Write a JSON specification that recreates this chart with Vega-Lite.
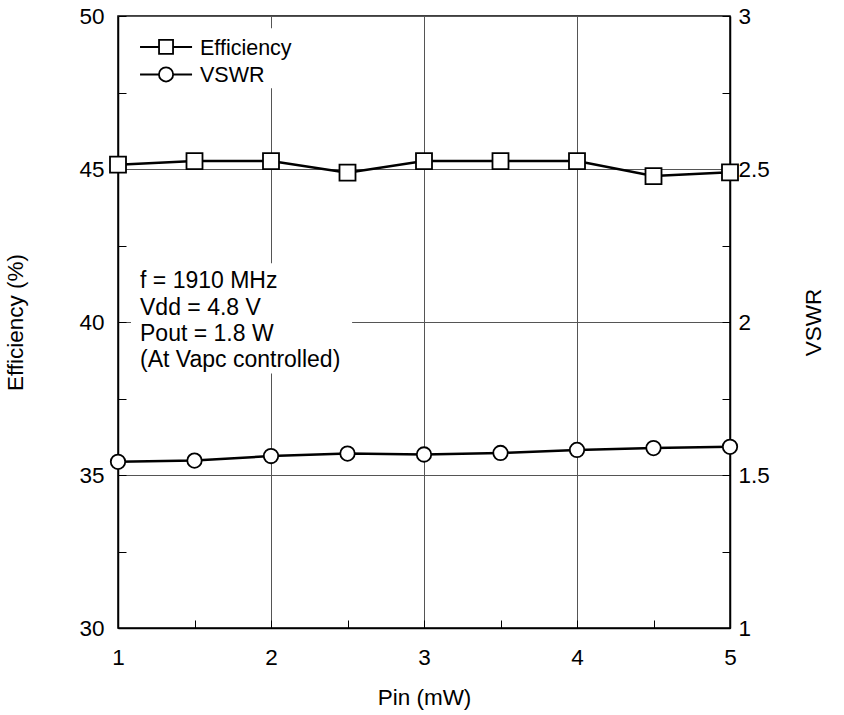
{
  "$schema": "https://vega.github.io/schema/vega-lite/v6.json",
  "width": 612,
  "height": 612,
  "autosize": "none",
  "padding": {"left": 118, "top": 16, "right": 114, "bottom": 87},
  "background": "white",
  "config": {
    "font": "Liberation Sans",
    "view": {"stroke": "black", "strokeWidth": 1.5},
    "axis": {
      "domainColor": "black", "domainWidth": 1.5,
      "tickColor": "black", "tickWidth": 1,
      "labelColor": "black", "labelFontSize": 22.5,
      "titleFontSize": 22.5, "titleFontWeight": "normal", "titleColor": "black",
      "gridColor": "#555", "gridWidth": 1
    }
  },
  "datasets": {
    "eff": [
      {"pin": 1, "series": "Efficiency", "value": 45.14},
      {"pin": 1.5, "series": "Efficiency", "value": 45.26},
      {"pin": 2, "series": "Efficiency", "value": 45.26},
      {"pin": 2.5, "series": "Efficiency", "value": 44.88},
      {"pin": 3, "series": "Efficiency", "value": 45.26},
      {"pin": 3.5, "series": "Efficiency", "value": 45.26},
      {"pin": 4, "series": "Efficiency", "value": 45.26},
      {"pin": 4.5, "series": "Efficiency", "value": 44.77},
      {"pin": 5, "series": "Efficiency", "value": 44.89}
    ],
    "vswr": [
      {"pin": 1, "series": "VSWR", "value": 1.543},
      {"pin": 1.5, "series": "VSWR", "value": 1.547},
      {"pin": 2, "series": "VSWR", "value": 1.562},
      {"pin": 2.5, "series": "VSWR", "value": 1.570},
      {"pin": 3, "series": "VSWR", "value": 1.567},
      {"pin": 3.5, "series": "VSWR", "value": 1.572},
      {"pin": 4, "series": "VSWR", "value": 1.582},
      {"pin": 4.5, "series": "VSWR", "value": 1.588},
      {"pin": 5, "series": "VSWR", "value": 1.592}
    ]
  },
  "layer": [
    {
      "layer": [
        {
          "data": {"values": [{}]},
          "mark": {"type": "rect", "fill": "white"},
          "encoding": {
            "x": {"datum": 1.085, "type": "quantitative", "scale": {"domain": [1, 5], "nice": false},
              "axis": {"title": "Pin (mW)", "values": [1, 1.5, 2, 2.5, 3, 3.5, 4, 4.5, 5], "tickSize": -8,
                "labelExpr": "datum.value % 1 === 0 ? format(datum.value, 'd') : ''",
                "grid": true, "gridOpacity": {"condition": {"test": "datum.value % 1 === 0", "value": 1}, "value": 0},
                "labelPadding": 26, "titlePadding": 18, "labelFlush": false}},
            "x2": {"datum": 2.53},
            "y": {"datum": 41.92, "type": "quantitative", "scale": {"domain": [30, 50], "nice": false},
              "axis": {"title": "Efficiency (%)", "values": [30, 32.5, 35, 37.5, 40, 42.5, 45, 47.5, 50], "tickSize": -8,
                "labelExpr": "datum.value % 5 === 0 ? format(datum.value, 'd') : ''",
                "grid": true, "gridOpacity": {"condition": {"test": "datum.value % 5 === 0", "value": 1}, "value": 0},
                "labelPadding": 22, "titlePadding": 51, "labelFlush": false}},
            "y2": {"datum": 38.32}
          }
        },
        {
          "data": {"values": [{}]},
          "mark": {"type": "rect", "fill": "white"},
          "encoding": {
            "x": {"datum": 1.085, "type": "quantitative",
              "axis": {"title": "Pin (mW)", "values": [1, 1.5, 2, 2.5, 3, 3.5, 4, 4.5, 5], "tickSize": -8,
                "labelExpr": "datum.value % 1 === 0 ? format(datum.value, 'd') : ''",
                "grid": true, "gridOpacity": {"condition": {"test": "datum.value % 1 === 0", "value": 1}, "value": 0},
                "labelPadding": 26, "titlePadding": 18, "labelFlush": false}},
            "x2": {"datum": 2.2},
            "y": {"datum": 49.6, "type": "quantitative",
              "axis": {"title": "Efficiency (%)", "values": [30, 32.5, 35, 37.5, 40, 42.5, 45, 47.5, 50], "tickSize": -8,
                "labelExpr": "datum.value % 5 === 0 ? format(datum.value, 'd') : ''",
                "grid": true, "gridOpacity": {"condition": {"test": "datum.value % 5 === 0", "value": 1}, "value": 0},
                "labelPadding": 22, "titlePadding": 51, "labelFlush": false}},
            "y2": {"datum": 47.64}
          }
        },
        {
          "data": {"values": [{}]},
          "mark": {"type": "text", "align": "left", "baseline": "middle", "fontSize": 23, "lineHeight": 26.3, "color": "black",
            "text": ["f = 1910 MHz", "Vdd = 4.8 V", "Pout = 1.8 W", "(At Vapc controlled)"]},
          "encoding": {
            "x": {"datum": 1.144, "type": "quantitative",
              "axis": {"title": "Pin (mW)", "values": [1, 1.5, 2, 2.5, 3, 3.5, 4, 4.5, 5], "tickSize": -8,
                "labelExpr": "datum.value % 1 === 0 ? format(datum.value, 'd') : ''",
                "grid": true, "gridOpacity": {"condition": {"test": "datum.value % 1 === 0", "value": 1}, "value": 0},
                "labelPadding": 26, "titlePadding": 18, "labelFlush": false}},
            "y": {"datum": 41.33, "type": "quantitative",
              "axis": {"title": "Efficiency (%)", "values": [30, 32.5, 35, 37.5, 40, 42.5, 45, 47.5, 50], "tickSize": -8,
                "labelExpr": "datum.value % 5 === 0 ? format(datum.value, 'd') : ''",
                "grid": true, "gridOpacity": {"condition": {"test": "datum.value % 5 === 0", "value": 1}, "value": 0},
                "labelPadding": 22, "titlePadding": 51, "labelFlush": false}}
          }
        },
        {
          "data": {"values": [{}]},
          "mark": {"type": "rule", "color": "black", "strokeWidth": 2},
          "encoding": {
            "x": {"datum": 1.144, "type": "quantitative",
              "axis": {"title": "Pin (mW)", "values": [1, 1.5, 2, 2.5, 3, 3.5, 4, 4.5, 5], "tickSize": -8,
                "labelExpr": "datum.value % 1 === 0 ? format(datum.value, 'd') : ''",
                "grid": true, "gridOpacity": {"condition": {"test": "datum.value % 1 === 0", "value": 1}, "value": 0},
                "labelPadding": 26, "titlePadding": 18, "labelFlush": false}},
            "x2": {"datum": 1.484},
            "y": {"datum": 48.99, "type": "quantitative",
              "axis": {"title": "Efficiency (%)", "values": [30, 32.5, 35, 37.5, 40, 42.5, 45, 47.5, 50], "tickSize": -8,
                "labelExpr": "datum.value % 5 === 0 ? format(datum.value, 'd') : ''",
                "grid": true, "gridOpacity": {"condition": {"test": "datum.value % 5 === 0", "value": 1}, "value": 0},
                "labelPadding": 22, "titlePadding": 51, "labelFlush": false}}
          }
        },
        {
          "data": {"values": [{}]},
          "mark": {"type": "rule", "color": "black", "strokeWidth": 2},
          "encoding": {
            "x": {"datum": 1.144, "type": "quantitative",
              "axis": {"title": "Pin (mW)", "values": [1, 1.5, 2, 2.5, 3, 3.5, 4, 4.5, 5], "tickSize": -8,
                "labelExpr": "datum.value % 1 === 0 ? format(datum.value, 'd') : ''",
                "grid": true, "gridOpacity": {"condition": {"test": "datum.value % 1 === 0", "value": 1}, "value": 0},
                "labelPadding": 26, "titlePadding": 18, "labelFlush": false}},
            "x2": {"datum": 1.484},
            "y": {"datum": 48.09, "type": "quantitative",
              "axis": {"title": "Efficiency (%)", "values": [30, 32.5, 35, 37.5, 40, 42.5, 45, 47.5, 50], "tickSize": -8,
                "labelExpr": "datum.value % 5 === 0 ? format(datum.value, 'd') : ''",
                "grid": true, "gridOpacity": {"condition": {"test": "datum.value % 5 === 0", "value": 1}, "value": 0},
                "labelPadding": 22, "titlePadding": 51, "labelFlush": false}}
          }
        },
        {
          "data": {"values": [{}]},
          "mark": {"type": "point", "shape": "square", "filled": true, "fill": "white", "stroke": "black", "strokeWidth": 1.8, "size": 196, "opacity": 1},
          "encoding": {
            "x": {"datum": 1.314, "type": "quantitative",
              "axis": {"title": "Pin (mW)", "values": [1, 1.5, 2, 2.5, 3, 3.5, 4, 4.5, 5], "tickSize": -8,
                "labelExpr": "datum.value % 1 === 0 ? format(datum.value, 'd') : ''",
                "grid": true, "gridOpacity": {"condition": {"test": "datum.value % 1 === 0", "value": 1}, "value": 0},
                "labelPadding": 26, "titlePadding": 18, "labelFlush": false}},
            "y": {"datum": 48.99, "type": "quantitative",
              "axis": {"title": "Efficiency (%)", "values": [30, 32.5, 35, 37.5, 40, 42.5, 45, 47.5, 50], "tickSize": -8,
                "labelExpr": "datum.value % 5 === 0 ? format(datum.value, 'd') : ''",
                "grid": true, "gridOpacity": {"condition": {"test": "datum.value % 5 === 0", "value": 1}, "value": 0},
                "labelPadding": 22, "titlePadding": 51, "labelFlush": false}}
          }
        },
        {
          "data": {"values": [{}]},
          "mark": {"type": "point", "shape": "circle", "filled": true, "fill": "white", "stroke": "black", "strokeWidth": 1.8, "size": 201, "opacity": 1},
          "encoding": {
            "x": {"datum": 1.314, "type": "quantitative",
              "axis": {"title": "Pin (mW)", "values": [1, 1.5, 2, 2.5, 3, 3.5, 4, 4.5, 5], "tickSize": -8,
                "labelExpr": "datum.value % 1 === 0 ? format(datum.value, 'd') : ''",
                "grid": true, "gridOpacity": {"condition": {"test": "datum.value % 1 === 0", "value": 1}, "value": 0},
                "labelPadding": 26, "titlePadding": 18, "labelFlush": false}},
            "y": {"datum": 48.09, "type": "quantitative",
              "axis": {"title": "Efficiency (%)", "values": [30, 32.5, 35, 37.5, 40, 42.5, 45, 47.5, 50], "tickSize": -8,
                "labelExpr": "datum.value % 5 === 0 ? format(datum.value, 'd') : ''",
                "grid": true, "gridOpacity": {"condition": {"test": "datum.value % 5 === 0", "value": 1}, "value": 0},
                "labelPadding": 22, "titlePadding": 51, "labelFlush": false}}
          }
        },
        {
          "data": {"values": [{}]},
          "mark": {"type": "text", "align": "left", "baseline": "middle", "fontSize": 21.5, "lineHeight": 27.3, "color": "black",
            "text": ["Efficiency", "VSWR"]},
          "encoding": {
            "x": {"datum": 1.536, "type": "quantitative",
              "axis": {"title": "Pin (mW)", "values": [1, 1.5, 2, 2.5, 3, 3.5, 4, 4.5, 5], "tickSize": -8,
                "labelExpr": "datum.value % 1 === 0 ? format(datum.value, 'd') : ''",
                "grid": true, "gridOpacity": {"condition": {"test": "datum.value % 1 === 0", "value": 1}, "value": 0},
                "labelPadding": 26, "titlePadding": 18, "labelFlush": false}},
            "y": {"datum": 48.93, "type": "quantitative",
              "axis": {"title": "Efficiency (%)", "values": [30, 32.5, 35, 37.5, 40, 42.5, 45, 47.5, 50], "tickSize": -8,
                "labelExpr": "datum.value % 5 === 0 ? format(datum.value, 'd') : ''",
                "grid": true, "gridOpacity": {"condition": {"test": "datum.value % 5 === 0", "value": 1}, "value": 0},
                "labelPadding": 22, "titlePadding": 51, "labelFlush": false}}
          }
        },
        {
          "data": {"name": "eff"},
          "mark": {"type": "line", "color": "black", "strokeWidth": 2.5},
          "encoding": {
            "x": {"field": "pin", "type": "quantitative", "scale": {"domain": [1, 5], "nice": false},
              "axis": {"title": "Pin (mW)", "values": [1, 1.5, 2, 2.5, 3, 3.5, 4, 4.5, 5], "tickSize": -8,
                "labelExpr": "datum.value % 1 === 0 ? format(datum.value, 'd') : ''",
                "grid": true, "gridOpacity": {"condition": {"test": "datum.value % 1 === 0", "value": 1}, "value": 0},
                "labelPadding": 26, "titlePadding": 18, "labelFlush": false}},
            "y": {"field": "value", "type": "quantitative", "scale": {"domain": [30, 50], "nice": false},
              "axis": {"title": "Efficiency (%)", "values": [30, 32.5, 35, 37.5, 40, 42.5, 45, 47.5, 50], "tickSize": -8,
                "labelExpr": "datum.value % 5 === 0 ? format(datum.value, 'd') : ''",
                "grid": true, "gridOpacity": {"condition": {"test": "datum.value % 5 === 0", "value": 1}, "value": 0},
                "labelPadding": 22, "titlePadding": 51, "labelFlush": false}}
          }
        },
        {
          "data": {"name": "eff"},
          "mark": {"type": "point", "shape": "square", "filled": true, "fill": "white", "stroke": "black", "strokeWidth": 1.8, "size": 256, "opacity": 1},
          "encoding": {
            "x": {"field": "pin", "type": "quantitative",
              "axis": {"title": "Pin (mW)", "values": [1, 1.5, 2, 2.5, 3, 3.5, 4, 4.5, 5], "tickSize": -8,
                "labelExpr": "datum.value % 1 === 0 ? format(datum.value, 'd') : ''",
                "grid": true, "gridOpacity": {"condition": {"test": "datum.value % 1 === 0", "value": 1}, "value": 0},
                "labelPadding": 26, "titlePadding": 18, "labelFlush": false}},
            "y": {"field": "value", "type": "quantitative",
              "axis": {"title": "Efficiency (%)", "values": [30, 32.5, 35, 37.5, 40, 42.5, 45, 47.5, 50], "tickSize": -8,
                "labelExpr": "datum.value % 5 === 0 ? format(datum.value, 'd') : ''",
                "grid": true, "gridOpacity": {"condition": {"test": "datum.value % 5 === 0", "value": 1}, "value": 0},
                "labelPadding": 22, "titlePadding": 51, "labelFlush": false}}
          }
        }
      ]
    },
    {
      "layer": [
        {
          "data": {"name": "vswr"},
          "mark": {"type": "line", "color": "black", "strokeWidth": 2.5},
          "encoding": {
            "x": {"field": "pin", "type": "quantitative",
              "axis": {"title": "Pin (mW)", "values": [1, 1.5, 2, 2.5, 3, 3.5, 4, 4.5, 5], "tickSize": -8,
                "labelExpr": "datum.value % 1 === 0 ? format(datum.value, 'd') : ''",
                "grid": true, "gridOpacity": {"condition": {"test": "datum.value % 1 === 0", "value": 1}, "value": 0},
                "labelPadding": 26, "titlePadding": 18, "labelFlush": false}},
            "y": {"field": "value", "type": "quantitative", "scale": {"domain": [1, 3], "nice": false},
              "axis": {"title": "VSWR", "orient": "right", "titleAngle": 270, "values": [1, 1.25, 1.5, 1.75, 2, 2.25, 2.5, 2.75, 3], "tickSize": -8,
                "labelExpr": "(datum.value * 2) % 1 === 0 ? format(datum.value, '~g') : ''",
                "grid": false, "labelPadding": 16, "titlePadding": 56, "labelFlush": false}}
          }
        },
        {
          "data": {"name": "vswr"},
          "mark": {"type": "point", "shape": "circle", "filled": true, "fill": "white", "stroke": "black", "strokeWidth": 1.8, "size": 209, "opacity": 1},
          "encoding": {
            "x": {"field": "pin", "type": "quantitative",
              "axis": {"title": "Pin (mW)", "values": [1, 1.5, 2, 2.5, 3, 3.5, 4, 4.5, 5], "tickSize": -8,
                "labelExpr": "datum.value % 1 === 0 ? format(datum.value, 'd') : ''",
                "grid": true, "gridOpacity": {"condition": {"test": "datum.value % 1 === 0", "value": 1}, "value": 0},
                "labelPadding": 26, "titlePadding": 18, "labelFlush": false}},
            "y": {"field": "value", "type": "quantitative",
              "axis": {"title": "VSWR", "orient": "right", "titleAngle": 270, "values": [1, 1.25, 1.5, 1.75, 2, 2.25, 2.5, 2.75, 3], "tickSize": -8,
                "labelExpr": "(datum.value * 2) % 1 === 0 ? format(datum.value, '~g') : ''",
                "grid": false, "labelPadding": 16, "titlePadding": 56, "labelFlush": false}}
          }
        }
      ]
    }
  ],
  "resolve": {"scale": {"y": "independent"}}
}
